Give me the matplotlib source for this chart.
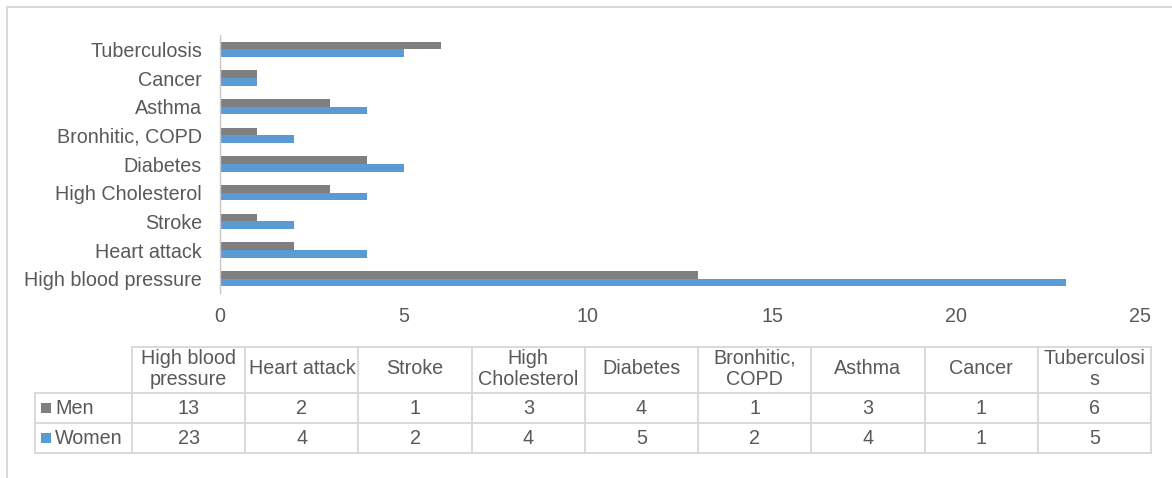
import matplotlib
matplotlib.use("Agg")
import matplotlib.pyplot as plt
from matplotlib.lines import Line2D
from matplotlib.patches import Rectangle

# Conditions reported, from the bottom of the chart upwards
categories = ["High blood pressure", "Heart attack", "Stroke", "High Cholesterol",
              "Diabetes", "Bronhitic, COPD", "Asthma", "Cancer", "Tuberculosis"]
# The same conditions as they wrap inside the data table header
table_headers = ["High blood\npressure", "Heart attack", "Stroke", "High\nCholesterol",
                 "Diabetes", "Bronhitic,\nCOPD", "Asthma", "Cancer", "Tuberculosi\ns"]
series_names = ["Men", "Women"]
men = [13, 2, 1, 3, 4, 1, 3, 1, 6]
women = [23, 4, 2, 4, 5, 2, 4, 1, 5]
x_ticks = [0, 5, 10, 15, 20, 25]

MEN_COLOR = "#7f7f7f"
WOMEN_COLOR = "#5b9bd5"
TEXT_COLOR = "#595959"
GRID_COLOR = "#d9d9d9"
FONT = "Liberation Sans"
FS = 14.2

W, H = 1172, 478
fig = plt.figure(figsize=(W / 100, H / 100), dpi=100)
fig.patch.set_facecolor("white")


def fx(x):
    return x / W


def fy(y):
    return 1 - y / H


# Bar chart area
ax = fig.add_axes([fx(220), fy(293), fx(1140) - fx(220), fy(35) - fy(293)])
bar_h = 0.268
pos = list(range(len(categories)))
ax.barh([p + bar_h / 2 for p in pos], men, height=bar_h, color=MEN_COLOR, label="Men")
ax.barh([p - bar_h / 2 for p in pos], women, height=bar_h, color=WOMEN_COLOR, label="Women")
ax.set_xlim(x_ticks[0], x_ticks[-1])
ax.set_ylim(-0.5, len(categories) - 0.5)
ax.set_yticks(pos)
ax.set_yticklabels(categories, fontsize=FS, color=TEXT_COLOR, fontfamily=FONT)
ax.set_xticks(x_ticks)
ax.set_xticklabels([str(t) for t in x_ticks], fontsize=FS, color=TEXT_COLOR, fontfamily=FONT)
ax.tick_params(axis="y", length=0, pad=13)
ax.tick_params(axis="x", length=0, pad=10)
for side in ["top", "right", "bottom"]:
    ax.spines[side].set_visible(False)
ax.spines["left"].set_color("#c8c8c8")
ax.spines["left"].set_linewidth(1.0)

# Outer chart frame (top and left edges)
fig.add_artist(Line2D([fx(7), fx(W)], [fy(7), fy(7)], color=GRID_COLOR, lw=1.5))
fig.add_artist(Line2D([fx(7), fx(7)], [fy(7), fy(H)], color=GRID_COLOR, lw=1.5))

# Data table under the chart
col_left = 132
col_w = (1151 - 132) / len(categories)
row_label_left = 35
y_head_top, y_men_top, y_women_top, y_bottom = 347, 393, 423, 453

def hline(x0, x1, y):
    fig.add_artist(Line2D([fx(x0), fx(x1)], [fy(y), fy(y)], color=GRID_COLOR, lw=1.4))

def vline(x, y0, y1):
    fig.add_artist(Line2D([fx(x), fx(x)], [fy(y0), fy(y1)], color=GRID_COLOR, lw=1.4))

x_right = col_left + col_w * len(categories)
hline(col_left, x_right, y_head_top)
hline(row_label_left, x_right, y_men_top)
hline(row_label_left, x_right, y_women_top)
hline(row_label_left, x_right, y_bottom)
vline(row_label_left, y_men_top, y_bottom)
for i in range(len(categories) + 1):
    vline(col_left + i * col_w, y_head_top, y_bottom)

for i, label in enumerate(table_headers):
    cx = col_left + (i + 0.5) * col_w
    fig.text(fx(cx), fy((y_head_top + y_men_top) / 2 - 1), label, ha="center", va="center",
             fontsize=FS, color=TEXT_COLOR, fontfamily=FONT, linespacing=1.18)

rows = [(series_names[0], men, MEN_COLOR, y_men_top, y_women_top),
        (series_names[1], women, WOMEN_COLOR, y_women_top, y_bottom)]
for name, vals, color, top, bot in rows:
    cy = (top + bot) / 2
    fig.add_artist(Rectangle((fx(41), fy(cy + 5)), fx(10), fy(0) - fy(10),
                             facecolor=color, edgecolor="none"))
    fig.text(fx(55), fy(cy), name, ha="left", va="center",
             fontsize=FS, color=TEXT_COLOR, fontfamily=FONT)
    for i, v in enumerate(vals):
        cx = col_left + (i + 0.5) * col_w
        fig.text(fx(cx), fy(cy), str(v), ha="center", va="center",
                 fontsize=FS, color=TEXT_COLOR, fontfamily=FONT)

fig.savefig("out.png", dpi=100, facecolor="white")
